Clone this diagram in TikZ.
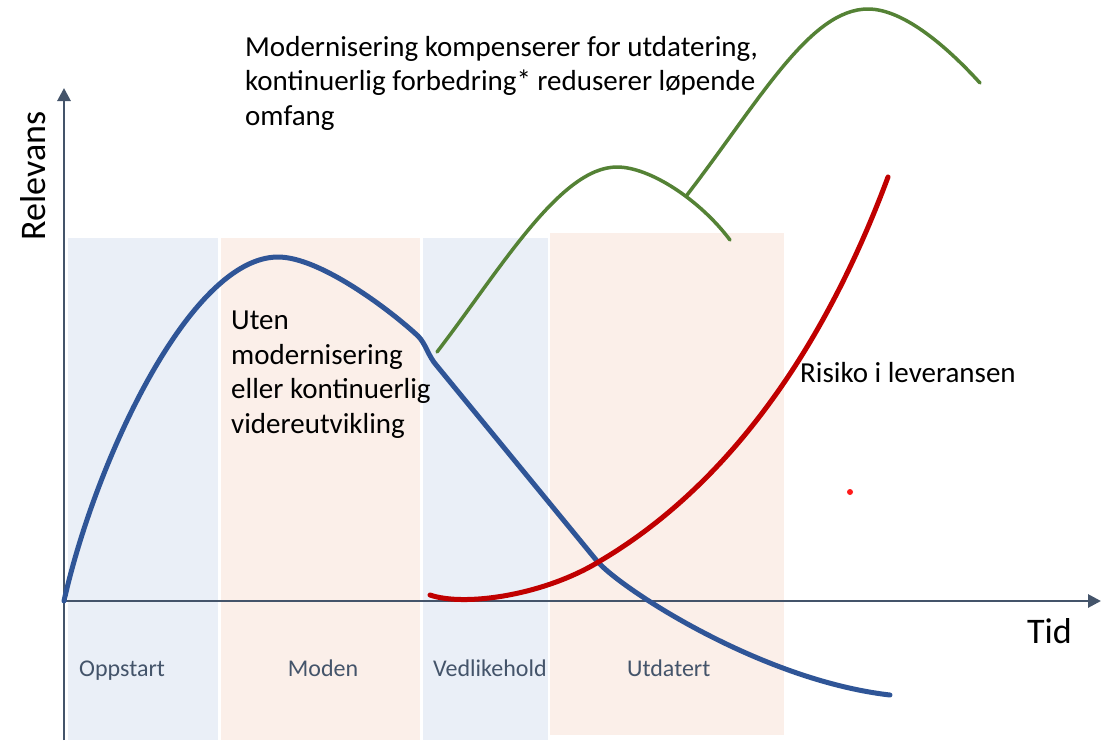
\documentclass[tikz,border=0pt]{standalone}
\usepackage{fontspec}
\setmainfont{Carlito}
\usetikzlibrary{arrows.meta}
\definecolor{bandblue}{HTML}{EAEFF7}
\definecolor{bandpeach}{HTML}{FBEFE9}
\definecolor{axisc}{HTML}{44546A}
\definecolor{curveblue}{HTML}{2F5597}
\definecolor{curvered}{HTML}{C00000}
\definecolor{curvegreen}{HTML}{548235}
\definecolor{dotred}{HTML}{FF1A1A}
\begin{document}
\begin{tikzpicture}[x=1pt,y=-1pt,
  axis/.style={draw=axisc, line width=2.8pt, -{Triangle[length=13pt,width=13pt]}},
  curve/.style={line cap=round, line join=round},
  txt/.style={font=\fontsize{29}{34.5}\selectfont, inner sep=0pt, anchor=base west, text=black},
  phase/.style={font=\fontsize{24}{29}\selectfont, text=axisc, inner sep=0pt, anchor=base west},
  axlabel/.style={font=\fontsize{36}{43}\selectfont, inner sep=0pt, text=black}]
\useasboundingbox (0,0) rectangle (1103,740);
\fill[white] (0,0) rectangle (1103,740);
% phase bands
\fill[bandblue] (68,238) rectangle (218,740);
\fill[bandpeach] (221,238) rectangle (420,740);
\fill[bandblue] (423,238) rectangle (548,740);
\fill[bandpeach] (550,233) rectangle (784,735);
% axes
\coordinate (yb) at (64,740);
\coordinate (yt) at (64,88);
\coordinate (xl) at (64,601);
\coordinate (xr) at (1101,601);
\draw[axis] (yb) -- (yt);
\draw[axis] (xl) -- (xr);
% blue curve: without modernisation
\draw[curve, curveblue, line width=5pt]
  (64,601) .. controls (95,462) and (190,257) .. (278,257)
  .. controls (320,257) and (390,310) .. (418,336)
  .. controls (426,344) and (428,356) .. (437,366)
  -- (597,561)
  .. controls (620,588) and (760,680) .. (890,695);
% red curve: risk
\draw[curve, curvered, line width=5pt]
  (430,595) .. controls (465,607) and (545,595) .. (600,561)
  .. controls (690,508) and (805,400) .. (888,177);
% green curves: modernisation
\draw[curve, curvegreen, line width=3.5pt]
  (437,352) .. controls (500,270) and (560,167) .. (617,167)
  .. controls (650,167) and (700,200) .. (730,240);
\coordinate (branch) at (687,195);
\draw[curve, curvegreen, line width=3.5pt]
  (branch) .. controls (760,100) and (810,9) .. (868,9)
  .. controls (905,9) and (950,50) .. (980,83);
\fill[dotred] (850,492) circle (3);
% texts
\node[txt] (t1) at (245,56) {Modernisering kompenserer for utdatering,};
\node[txt] (t2) at (245,90.5) {kontinuerlig forbedring* reduserer løpende};
\node[txt] (t3) at (245,125) {omfang};
\node[txt] (u1) at (231,329) {Uten};
\node[txt] (u2) at (231,364) {modernisering};
\node[txt] (u3) at (231,398.5) {eller kontinuerlig};
\node[txt] (u4) at (231,433) {videreutvikling};
\node[txt] (risk) at (800,382) {Risiko i leveransen};
\node[axlabel, rotate=90, anchor=base] (rel) at (45,176) {Relevans};
\node[axlabel, anchor=base west] (tid) at (1027,643) {Tid};
\node[phase] (p1) at (79,676) {Oppstart};
\node[phase, anchor=base] (p2) at (323,676) {Moden};
\node[phase] (p3) at (433,676) {Vedlikehold};
\node[phase] (p4) at (627,676) {Utdatert};
\end{tikzpicture}
\end{document}
